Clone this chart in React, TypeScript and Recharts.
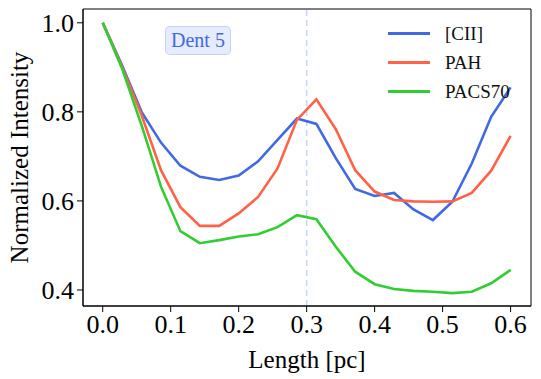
import React from 'react';
import { LineChart, Line, XAxis, YAxis, ReferenceLine, ReferenceArea } from 'recharts';

const lengths: number[] = Array.from({ length: 22 }, (_, i) => +(i * 0.6 / 21).toFixed(5));
const cii: number[] = [1.0, 0.904, 0.80, 0.731, 0.679, 0.654, 0.647, 0.657, 0.689, 0.737, 0.785, 0.773, 0.696, 0.627, 0.611, 0.618, 0.581, 0.557, 0.598, 0.684, 0.789, 0.855];
const pah: number[] = [1.0, 0.901, 0.793, 0.669, 0.586, 0.544, 0.544, 0.572, 0.609, 0.673, 0.782, 0.828, 0.761, 0.669, 0.621, 0.602, 0.599, 0.598, 0.599, 0.618, 0.668, 0.746];
const pacs70: number[] = [1.0, 0.897, 0.77, 0.632, 0.532, 0.505, 0.512, 0.520, 0.525, 0.541, 0.568, 0.559, 0.497, 0.441, 0.413, 0.402, 0.398, 0.396, 0.393, 0.396, 0.415, 0.445];
const xTicks: number[] = [0, 0.1, 0.2, 0.3, 0.4, 0.5, 0.6];
const yTicks: number[] = [0.4, 0.6, 0.8, 1.0];
const seriesNames = ['[CII]', 'PAH', 'PACS70'];
const seriesColors = ['#4169E1', '#FF6347', '#32CD32'];

const data = lengths.map((x, i) => ({ x, cii: cii[i], pah: pah[i], pacs70: pacs70[i] }));

const FONT = '"Liberation Serif", "Times New Roman", serif';

export default function App() {
  return (
    <div style={{ position: 'absolute', left: 0, top: 0, width: 541, height: 379, background: '#fff', fontFamily: FONT }}>
      <LineChart width={541} height={379} data={data} margin={{ top: 9, right: 10, left: 0, bottom: 0 }} style={{ fontFamily: FONT }}>
        <XAxis
          dataKey="x"
          type="number"
          domain={[-0.029, 0.63]}
          ticks={xTicks}
          tickFormatter={(v: number) => v.toFixed(1)}
          height={73}
          tickSize={6}
          tickMargin={3}
          tickLine={{ stroke: '#000', strokeWidth: 1 }}
          axisLine={{ stroke: '#000', strokeWidth: 1 }}
          tick={{ fill: '#000', fontSize: 26, fontFamily: FONT, style: { fontFamily: FONT } }}
          allowDataOverflow
          label={{ value: 'Length [pc]', position: 'insideBottom', offset: 11, fill: '#000', fontSize: 25, fontFamily: FONT }}
        />
        <YAxis
          type="number"
          domain={[0.364, 1.031]}
          ticks={yTicks}
          tickFormatter={(v: number) => v.toFixed(1)}
          width={83}
          tickSize={6}
          tickMargin={3}
          tickLine={{ stroke: '#000', strokeWidth: 1 }}
          axisLine={{ stroke: '#000', strokeWidth: 1 }}
          tick={{ fill: '#000', fontSize: 26, fontFamily: FONT, style: { fontFamily: FONT } }}
          allowDataOverflow
          label={{ value: 'Normalized Intensity', angle: -90, position: 'insideLeft', offset: 0, dx: 19, fill: '#000', fontSize: 25, fontFamily: FONT, style: { textAnchor: 'middle' } }}
        />
        <ReferenceArea x1={-0.029} x2={0.63} y1={0.364} y2={1.031} fill="none" stroke="#000" strokeWidth={1} ifOverflow="visible" />
        <ReferenceLine x={0.3} stroke="#4169E1" strokeOpacity={0.3} strokeWidth={1.5} strokeDasharray="6 4" />
        <Line dataKey="cii" name="[CII]" stroke={seriesColors[0]} strokeWidth={2.6} dot={false} isAnimationActive={false} />
        <Line dataKey="pah" name="PAH" stroke={seriesColors[1]} strokeWidth={2.6} dot={false} isAnimationActive={false} />
        <Line dataKey="pacs70" name="PACS70" stroke={seriesColors[2]} strokeWidth={2.6} dot={false} isAnimationActive={false} />
      </LineChart>
      <div style={{ position: 'absolute', left: 388, top: 19, fontSize: 19, color: '#111', lineHeight: '29px' }}>
        {seriesNames.map((n, i) => (
          <div key={n} style={{ display: 'flex', alignItems: 'center', height: 29 }}>
            <div style={{ width: 42, height: 0, borderTop: `3px solid ${seriesColors[i]}`, marginRight: 15 }} />
            <span>{n}</span>
          </div>
        ))}
      </div>
      <div
        style={{
          position: 'absolute', left: 165, top: 26, width: 66, height: 29,
          boxSizing: 'border-box', background: 'rgba(65,105,225,0.13)', border: '1px solid rgba(65,105,225,0.2)',
          borderRadius: 5, color: '#4169E1', fontSize: 20,
          display: 'flex', alignItems: 'center', justifyContent: 'center'
        }}
      >
        Dent 5
      </div>
    </div>
  );
}
